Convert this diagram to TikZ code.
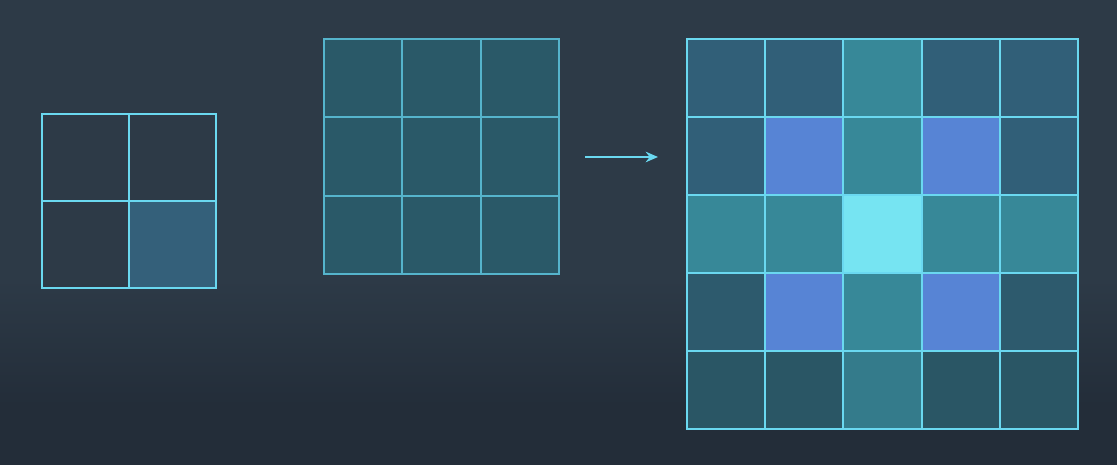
\documentclass[tikz,border=0pt]{standalone}
\usepackage{tikz}
\usetikzlibrary{positioning, arrows.meta}

\definecolor{bgtop}{HTML}{2D3A47}
\definecolor{bgbot}{HTML}{232D39}
\definecolor{edgecyan}{HTML}{6AD8F0}
\definecolor{edgemid}{HTML}{55B4CC}
\definecolor{kernfill}{HTML}{34607A}
\definecolor{imgfill}{HTML}{2A5968}
\definecolor{cornerfill}{HTML}{315F78}
\definecolor{tealfill}{HTML}{378898}
\definecolor{bluefill}{HTML}{5784D5}
\definecolor{hotfill}{HTML}{76E4F2}
\definecolor{lowfill}{HTML}{2D5A6D}
\definecolor{basefill}{HTML}{2A5665}
\definecolor{basemid}{HTML}{347B8B}

\begin{document}
\begin{tikzpicture}[
                x=0.02cm, y=-0.02cm,
                kcell/.style={rectangle, draw=edgecyan, line width=1.6pt, minimum size=1.74cm, inner sep=0pt},
                icell/.style={rectangle, draw=edgemid, fill=imgfill, line width=1.1pt, minimum size=1.567cm, inner sep=0pt},
                ocell/.style={rectangle, draw=edgecyan, line width=1.1pt, minimum size=1.564cm, inner sep=0pt}
            ]
                % Background
                \useasboundingbox (0,0) rectangle (1117,465);
                \fill[bgtop] (0,0) rectangle (1117,280);
                \shade[top color=bgtop, bottom color=bgbot] (0,279) rectangle (1117,406);
                \fill[bgbot] (0,405) rectangle (1117,465);

                % Kernel (2x2)
                \node[kcell] (k11) at (85.5,157.5) {};
                \node[kcell] (k12) at (172.5,157.5) {};
                \node[kcell] (k21) at (85.5,244.5) {};
                \node[kcell, fill=kernfill] (k22) at (172.5,244.5) {};

                % Input (3x3)
                \node[icell] (i11) at (363.2,78.2) {};
                \node[icell] (i12) at (441.5,78.2) {};
                \node[icell] (i13) at (519.8,78.2) {};
                \node[icell] (i21) at (363.2,156.5) {};
                \node[icell] (i22) at (441.5,156.5) {};
                \node[icell] (i23) at (519.8,156.5) {};
                \node[icell] (i31) at (363.2,234.8) {};
                \node[icell] (i32) at (441.5,234.8) {};
                \node[icell] (i33) at (519.8,234.8) {};

                % Arrow
                \coordinate (arrA) at (585,157);
                \coordinate (arrB) at (658,157);
                \draw[edgecyan, line width=1.2pt, -{Stealth[length=7pt, width=6pt]}] (arrA) -- (arrB);

                % Output (5x5) - Row 1
                \node[ocell, fill=cornerfill] (o11) at (726.1,78) {};
                \node[ocell, fill=cornerfill] (o12) at (804.3,78) {};
                \node[ocell, fill=tealfill] (o13) at (882.5,78) {};
                \node[ocell, fill=cornerfill] (o14) at (960.7,78) {};
                \node[ocell, fill=cornerfill] (o15) at (1038.9,78) {};

                % Row 2
                \node[ocell, fill=cornerfill] (o21) at (726.1,156) {};
                \node[ocell, fill=bluefill] (o22) at (804.3,156) {};
                \node[ocell, fill=tealfill] (o23) at (882.5,156) {};
                \node[ocell, fill=bluefill] (o24) at (960.7,156) {};
                \node[ocell, fill=cornerfill] (o25) at (1038.9,156) {};

                % Row 3
                \node[ocell, fill=tealfill] (o31) at (726.1,234) {};
                \node[ocell, fill=tealfill] (o32) at (804.3,234) {};
                \node[ocell, fill=hotfill] (o33) at (882.5,234) {};
                \node[ocell, fill=tealfill] (o34) at (960.7,234) {};
                \node[ocell, fill=tealfill] (o35) at (1038.9,234) {};

                % Row 4
                \node[ocell, fill=lowfill] (o41) at (726.1,312) {};
                \node[ocell, fill=bluefill] (o42) at (804.3,312) {};
                \node[ocell, fill=tealfill] (o43) at (882.5,312) {};
                \node[ocell, fill=bluefill] (o44) at (960.7,312) {};
                \node[ocell, fill=lowfill] (o45) at (1038.9,312) {};

                % Row 5
                \node[ocell, fill=basefill] (o51) at (726.1,390) {};
                \node[ocell, fill=basefill] (o52) at (804.3,390) {};
                \node[ocell, fill=basemid] (o53) at (882.5,390) {};
                \node[ocell, fill=basefill] (o54) at (960.7,390) {};
                \node[ocell, fill=basefill] (o55) at (1038.9,390) {};

            \end{tikzpicture}
\end{document}
